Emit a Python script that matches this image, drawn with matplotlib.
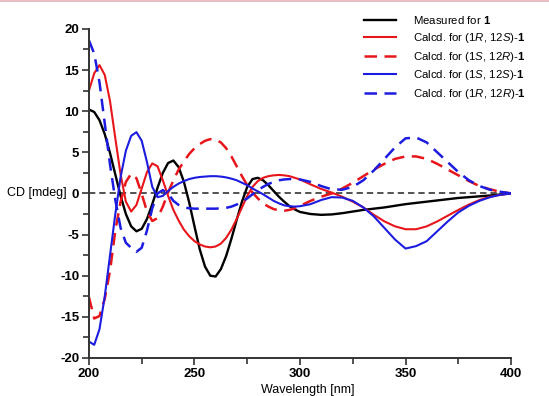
import numpy as np
import matplotlib
matplotlib.use("Agg")
from matplotlib import pyplot as plt
from matplotlib.lines import Line2D

plt.rcParams['font.family'] = ['Liberation Sans', 'DejaVu Sans']
plt.rcParams['mathtext.fontset'] = 'custom'
plt.rcParams['mathtext.rm'] = 'Liberation Sans'
plt.rcParams['mathtext.it'] = 'Liberation Sans:italic'
plt.rcParams['mathtext.bf'] = 'Liberation Sans:bold'
plt.rcParams['axes.unicode_minus'] = False

# --- data (wavelength in nm, CD in mdeg) ---
wavelength = [200, 202.5, 205, 207.5, 210, 212.5, 215, 217.5, 220, 222.5,
              225, 227.5, 230, 232.5, 235, 237.5, 240, 242.5, 245, 247.5,
              250, 252.5, 255, 257.5, 260, 262.5, 265, 267.5, 270, 272.5,
              275, 277.5, 280, 282.5, 285, 287.5, 290, 292.5, 295, 297.5,
              300, 305, 310, 315, 320, 325, 330, 335, 340, 345,
              350, 355, 360, 365, 370, 375, 380, 385, 390, 395, 400]

measured = [10.2, 9.9, 8.9, 7.2, 4.9, 2.3, -0.3, -2.5, -4.0, -4.6,
            -4.3, -3.1, -1.3, 0.7, 2.5, 3.7, 4.0, 3.2, 1.4, -1.1,
            -4.0, -6.8, -8.9, -10.0, -10.1, -9.2, -7.6, -5.5, -3.2, -1.0,
            0.8, 1.75, 1.9, 1.6, 1.0, 0.3, -0.4, -1.0, -1.55, -1.95,
            -2.25, -2.5, -2.6, -2.55, -2.4, -2.2, -2.0, -1.85, -1.7, -1.5,
            -1.3, -1.15, -1.0, -0.85, -0.7, -0.55, -0.45, -0.35, -0.25, -0.12, 0.0]

calc_1R12S = [12.5, 14.6, 15.6, 14.4, 11.2, 6.7, 2.3, -1.0, -2.2, -1.4,
              0.6, 2.6, 3.65, 3.3, 1.6, -0.3, -2.0, -3.3, -4.4, -5.2,
              -5.8, -6.2, -6.45, -6.55, -6.45, -6.1, -5.4, -4.4, -3.1, -1.7,
              -0.3, 0.8, 1.5, 1.9, 2.1, 2.2, 2.25, 2.2, 2.1, 1.9,
              1.7, 1.1, 0.55, 0.1, -0.4, -1.0, -1.7, -2.6, -3.4, -4.0,
              -4.35, -4.35, -4.0, -3.4, -2.7, -2.0, -1.35, -0.8, -0.4, -0.15, 0.0]

calc_1S12R = [-12.6, -15.2, -14.9, -12.8, -9.4, -4.5, -1.0, 1.4, 2.4, 1.85,
              -0.05, -2.2, -3.35, -3.0, -1.6, 0.1, 1.6, 2.9, 3.9, 4.8,
              5.5, 6.0, 6.4, 6.6, 6.55, 6.2, 5.5, 4.5, 3.3, 2.1,
              1.0, 0.1, -0.6, -1.2, -1.6, -1.9, -2.05, -2.1, -2.0, -1.8,
              -1.5, -0.9, -0.4, 0.0, 0.6, 1.3, 2.1, 2.9, 3.6, 4.2,
              4.5, 4.5, 4.2, 3.6, 2.9, 2.2, 1.5, 0.9, 0.5, 0.2, 0.0]

calc_1S12S = [-18.0, -18.4, -16.5, -12.5, -7.5, -2.5, 2.0, 5.2, 7.0, 7.45,
              6.4, 3.8, 0.8, -0.45, -0.3, 0.3, 0.8, 1.2, 1.5, 1.75,
              1.9, 2.0, 2.05, 2.1, 2.1, 2.05, 1.95, 1.8, 1.6, 1.3,
              1.0, 0.6, 0.25, -0.1, -0.5, -0.9, -1.2, -1.45, -1.55, -1.6,
              -1.55, -1.3, -0.8, -0.45, -0.5, -0.9, -1.7, -2.8, -4.2, -5.6,
              -6.7, -6.4, -5.8, -4.6, -3.4, -2.3, -1.5, -0.9, -0.45, -0.15, 0.0]

calc_1R12R = [18.6, 17.0, 13.5, 8.5, 3.5, -0.8, -4.2, -6.0, -6.6, -7.1,
              -6.6, -4.5, -1.8, 0.0, 0.4, 0.0, -0.9, -1.4, -1.7, -1.8,
              -1.85, -1.85, -1.85, -1.85, -1.85, -1.8, -1.75, -1.6, -1.35, -1.0,
              -0.6, -0.1, 0.4, 0.8, 1.15, 1.4, 1.6, 1.7, 1.75, 1.75,
              1.7, 1.4, 0.9, 0.5, 0.45, 0.8, 1.6, 2.8, 4.2, 5.6,
              6.7, 6.8, 6.2, 5.0, 3.8, 2.6, 1.6, 0.9, 0.45, 0.2, 0.0]

labels = ['Measured for $\\bf{1}$',
          'Calcd. for (1$\\it{R}$, 12$\\it{S}$)-$\\bf{1}$',
          'Calcd. for (1$\\it{S}$, 12$\\it{R}$)-$\\bf{1}$',
          'Calcd. for (1$\\it{S}$, 12$\\it{S}$)-$\\bf{1}$',
          'Calcd. for (1$\\it{R}$, 12$\\it{R}$)-$\\bf{1}$']

red = '#e8161b'
blue = '#1c1ce0'

# -----------------------------------------------------------#
fig = plt.figure(figsize=(5.49, 3.96), dpi=100)
ax = fig.add_axes([0.162, 0.096, 0.769, 0.831])

ax.axhline(0, color='#444444', linewidth=1.3, dashes=(3.5, 2.2))
ax.plot(wavelength, measured, color='black', linewidth=1.7, label=labels[0])
ax.plot(wavelength, calc_1R12S, color=red, linewidth=1.5, label=labels[1])
ax.plot(wavelength, calc_1S12R, color=red, linewidth=1.8, dashes=(5, 3), label=labels[2])
ax.plot(wavelength, calc_1S12S, color=blue, linewidth=1.5, label=labels[3])
ax.plot(wavelength, calc_1R12R, color=blue, linewidth=1.8, dashes=(5, 3), label=labels[4])

ax.set_xlim(200, 400)
ax.set_ylim(-20, 20)
ax.spines['top'].set_visible(False)
ax.spines['right'].set_visible(False)
for s in ['left', 'bottom']:
    ax.spines[s].set_color('#333333')
    ax.spines[s].set_linewidth(1.4)

ax.set_xticks(np.arange(200, 401, 50))
ax.set_xticks(np.arange(225, 400, 50), minor=True)
ax.set_yticks(np.arange(-20, 21, 5))
ax.set_yticks(np.arange(-17.5, 20, 5), minor=True)
ax.tick_params(which='both', direction='out', color='#333333', width=1.2)
ax.tick_params(which='major', length=5, labelsize=9.5, pad=2)
ax.tick_params(which='minor', length=4)
for t in ax.get_xticklabels() + ax.get_yticklabels():
    t.set_fontweight('bold')

fig.text(0.012, 0.512, 'CD [mdeg]', fontsize=9, va='center', ha='left')
fig.text(0.56, 0.016, 'Wavelength [nm]', fontsize=9, va='center', ha='center')

leg = ax.legend(loc='upper left', bbox_to_anchor=(0.627, 1.075), frameon=False,
                fontsize=8.2, handlelength=2.8, handletextpad=1.5, labelspacing=0.4)

# thin pink border line at the top of the page crop
fig.add_artist(Line2D([0, 1], [0.997, 0.997], color='#e6b3b8', linewidth=1.2))

fig.savefig('out.png', dpi=100)
